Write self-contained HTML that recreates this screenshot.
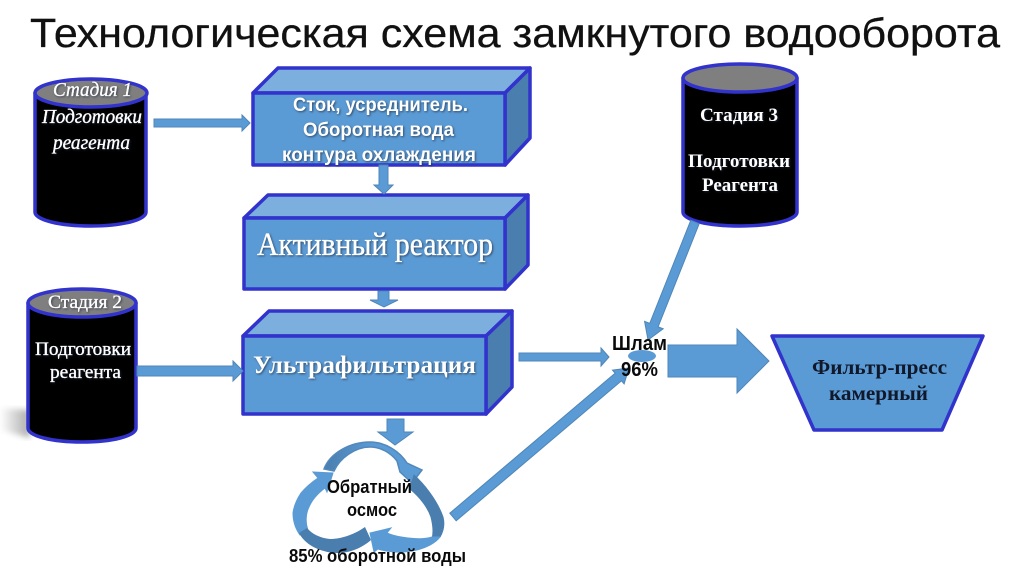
<!DOCTYPE html>
<html lang="ru"><head><meta charset="utf-8"><title>Технологическая схема</title>
<style>html,body{margin:0;padding:0;background:#fff}svg{display:block}
.sans{font-family:"Liberation Sans","Noto Sans CJK SC",sans-serif}
.serif{font-family:"Liberation Serif","Noto Serif CJK SC",serif}
.w{fill:#fff}.b{font-weight:bold}.i{font-style:italic}
.sh{filter:drop-shadow(1px 1px 1px rgba(30,40,60,.7))}
.hv{stroke:#fff;stroke-width:.35}
.a{fill:#5b9bd5;stroke:#4f86b8;stroke-width:1}
.f{fill:#5b9bd5}.t{fill:#7dafde}.s{fill:#4a7eae}
.o{stroke:#3232cc;stroke-width:3.5;stroke-linejoin:round}
</style></head><body>
<svg width="1024" height="574" viewBox="0 0 1024 574" xmlns="http://www.w3.org/2000/svg">
<defs>
<linearGradient id="sg" x1="0" x2="1" y1="0" y2="0"><stop offset="0" stop-color="#fff"/><stop offset="1" stop-color="#aaa"/></linearGradient>
<filter id="bl"><feGaussianBlur stdDeviation="3"/></filter>
<linearGradient id="tg" x1="0" x2="1" y1="0" y2="0"><stop offset="0" stop-color="#4a7eae"/><stop offset=".5" stop-color="#5b9bd5"/><stop offset="1" stop-color="#5b9bd5"/></linearGradient>
</defs>
<rect width="1024" height="574" fill="#fff"/>
<text class="sans" x="30" y="47" font-size="41" textLength="970" lengthAdjust="spacingAndGlyphs" fill="#111" stroke="#111" stroke-width=".3">Технологическая схема замкнутого водооборота</text>

<!-- shadow -->
<path d="M0 408L30 410V438L0 430Z" fill="url(#sg)" filter="url(#bl)"/>

<!-- cylinders -->
<g class="o">
<path d="M35 93V212C35 220 60 226 91 226S146 220 146 212V93Z" fill="#000"/>
<ellipse cx="91" cy="93" rx="56" ry="14" fill="#7f7f7f"/>
<path d="M28 303V428C28 436 52 442 82 442S136 436 136 428V303Z" fill="#000"/>
<ellipse cx="82" cy="303" rx="54" ry="14" fill="#7f7f7f"/>
<path d="M683 78V212C683 220 708 226 740 226S797 220 797 212V78Z" fill="#000"/>
<ellipse cx="740" cy="78" rx="57" ry="14" fill="#7f7f7f"/>
</g>

<!-- boxes -->
<g class="o">
<path class="t" d="M253 93L278 68H530L505 93Z"/>
<path class="s" d="M505 93L530 68V138L505 165Z"/>
<rect class="f" x="253" y="93" width="252" height="72"/>
<path class="t" d="M244 218L268 195H528L505 218Z"/>
<path class="s" d="M505 218L528 195V265L505 289Z"/>
<rect class="f" x="244" y="218" width="261" height="71"/>
<path class="t" d="M243 336L269 311H512L486 336Z"/>
<path class="s" d="M486 336L512 311V387L486 414Z"/>
<rect class="f" x="243" y="336" width="243" height="78"/>
<path class="f" d="M772 336H983L942 430H814Z"/>
</g>

<!-- straight arrows -->
<path class="a" d="M154 119H242V115L250 123L242 131V127H154Z"/>
<path class="a" d="M379 165H388V185H393L384 194L374 185H379Z"/>
<path class="a" d="M378 291H389V300H398L384 307L370 300H378Z"/>
<path class="a" d="M137 366H233V361L243 371L233 381V376H137Z"/>
<path class="a" d="M387 419H404V432H413L395 445L378 432H387Z"/>
<path class="a" d="M519 353H601V348L609 357L601 366V361H519Z"/>
<path class="f" d="M668 345H737V329L769 361L737 393V377H668Z" stroke="#4f86b8"/>
<path class="a" d="M699.2 223.7L658.1 326.8L663.2 328.8L648 340L644.6 321.4L649.7 323.4L690.8 220.3Z"/>
<path class="a" d="M456.2 520.8L621.5 380.8L624.1 383.9L629 368L612.5 370.1L615.1 373.2L449.8 513.2Z"/>
<ellipse cx="642" cy="356" rx="14" ry="6" fill="#5b9bd5"/>

<!-- cycle -->
<path d="M324 469C330 453 350 442 370 442C386 442 400 452 407 463L422 470L412 483L400 472L397 461C390 452 380 447 370 447C355 447 340 458 334 471Z" fill="url(#tg)" stroke="#5288bb" stroke-width="1.5"/>
<path d="M414 475C424 484 437 500 443 517C445 525 443 532 440 537L432 539C434 532 433 525 431 517C428 508 420 497 410 489Z" fill="#4a7eae" stroke="#4a7eae"/>
<path d="M440 537C437 541 434 543 430 545C415 553 395 554 378 549L374 552L370 533L391 528L387 533C395 537 420 541 432 537Z" fill="#5b9bd5" stroke="#5b9bd5"/>
<path d="M313 472L333 473L327 492L325 488C317 494 312 500 309 507C306 513 305 522 308 530L300 535C295 528 293 520 293 513C294 505 297 499 301 493C306 487 312 482 318 478Z" fill="#5b9bd5" stroke="#5b9bd5"/>
<path d="M299 533L307 528C312 534 320 538 330 539C342 539 355 534 365 527L371 540C362 548 350 553 337 553C325 553 306 547 299 533Z" fill="#4a7eae"/>

<!-- labels -->
<g class="serif w i sh hv">
<text x="53" y="96" font-size="20" textLength="79" lengthAdjust="spacingAndGlyphs">Стадия 1</text>
<text x="42" y="123" font-size="20" textLength="100" lengthAdjust="spacingAndGlyphs">Подготовки</text>
<text x="53" y="149" font-size="20" textLength="77" lengthAdjust="spacingAndGlyphs">реагента</text>
</g>
<g class="serif w sh hv">
<text x="48" y="308" font-size="19" textLength="74" lengthAdjust="spacingAndGlyphs">Стадия 2</text>
<text x="35" y="355" font-size="19" textLength="96" lengthAdjust="spacingAndGlyphs">Подготовки</text>
<text x="50" y="378" font-size="19" textLength="71" lengthAdjust="spacingAndGlyphs">реагента</text>
</g>
<g class="serif w b sh">
<text x="700" y="121" font-size="19" textLength="78" lengthAdjust="spacingAndGlyphs">Стадия 3</text>
<text x="688" y="167" font-size="19" textLength="102" lengthAdjust="spacingAndGlyphs">Подготовки</text>
<text x="702" y="191" font-size="19" textLength="76" lengthAdjust="spacingAndGlyphs">Реагента</text>
</g>
<g class="sans w b sh" font-size="19">
<text x="293" y="111" textLength="175" lengthAdjust="spacingAndGlyphs">Сток, усреднитель.</text>
<text x="303" y="136" textLength="151" lengthAdjust="spacingAndGlyphs">Оборотная вода</text>
<text x="282" y="161" textLength="194" lengthAdjust="spacingAndGlyphs">контура охлаждения</text>
</g>
<text class="serif w sh hv" x="257" y="255" font-size="33" textLength="236" lengthAdjust="spacingAndGlyphs">Активный реактор</text>
<text class="serif w b sh" x="253" y="373" font-size="25" textLength="223" lengthAdjust="spacingAndGlyphs">Ультрафильтрация</text>
<g class="sans b" fill="#0a0a0a">
<text x="327" y="493" font-size="18" textLength="85" lengthAdjust="spacingAndGlyphs">Обратный</text>
<text x="347" y="516" font-size="18" textLength="50" lengthAdjust="spacingAndGlyphs">осмос</text>
<text x="289" y="562" font-size="18" textLength="177" lengthAdjust="spacingAndGlyphs">85% оборотной воды</text>
<text x="612" y="350" font-size="20" textLength="55" lengthAdjust="spacingAndGlyphs">Шлам</text>
<text x="621" y="376" font-size="20" textLength="37" lengthAdjust="spacingAndGlyphs">96%</text>
</g>
<g class="serif b" fill="#10182a" font-size="21">
<text x="812" y="374" textLength="135" lengthAdjust="spacingAndGlyphs">Фильтр-пресс</text>
<text x="829" y="400" textLength="99" lengthAdjust="spacingAndGlyphs">камерный</text>
</g>
</svg>
</body></html>
